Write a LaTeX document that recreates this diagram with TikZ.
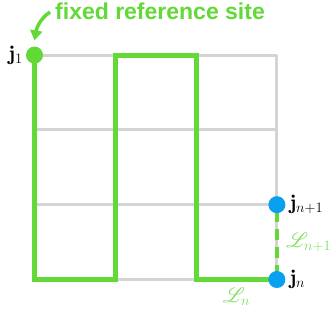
\documentclass[tikz,border=0pt]{standalone}
\usepackage{fontspec}
\usepackage{amsmath, amssymb}
\usepackage{mathrsfs}
\usepackage{tikz}
\usetikzlibrary{arrows.meta,positioning}
\newfontfamily\capfont{Liberation Sans}
\definecolor{lgreen}{RGB}{98,217,54}
\definecolor{lscript}{RGB}{125,222,90}
\definecolor{lblue}{RGB}{10,160,240}
\definecolor{lgray}{RGB}{212,212,212}
\tikzset{G/.style={circle, fill=lgreen, minimum size=17pt, inner sep=0pt}}
\tikzset{B/.style={circle, fill=lblue, minimum size=17pt, inner sep=0pt}}
\tikzset{E/.style={draw=lgray, line width=3pt}}
\tikzset{W/.style={draw=lgreen, line width=5pt, line join=miter}}
\tikzset{D/.style={draw=lgreen, line width=4.5pt, dash pattern=on 11pt off 7pt, dash phase=14.5pt}}
\tikzset{A/.style={draw=lgreen, line width=3.5pt, -{Triangle[length=10pt,width=12pt]}}}
\tikzset{J/.style={inner sep=0pt, font=\fontsize{21}{24}\selectfont}}
\tikzset{L/.style={inner sep=0pt, text=lscript, font=\fontsize{21}{24}\selectfont}}

\begin{document}
\begin{tikzpicture}[x=1pt,y=1pt]
            \useasboundingbox (0,0) rectangle (333,320);
            \foreach \i in {0,...,3}
                \foreach \j in {0,...,3}
                    \coordinate (p\i\j) at ({34.5+80.8*\i},{40.5+74.8*\j});
            \foreach \k in {0,...,3}{
                \draw[E] (p0\k) -- (p3\k);
                \draw[E] (p\k0) -- (p\k3);
            }
            \draw[D] (p30) -- (p31);
            \draw[W] (p03) -- (p00) -- (p10) -- (p13) -- (p23) -- (p20) -- (p30);
            \node[G] (j1) at (p03) {};
            \node[B] (jn1) at (p31) {};
            \node[B] (jn) at (p30) {};
            \node[J, left=3pt of j1] (lj1) {$\mathbf{j}_1$};
            \node[J, right=4pt of jn1] (ljn1) {$\mathbf{j}_{n+1}$};
            \node[J, right=4pt of jn] (ljn) {$\mathbf{j}_n$};
            \path (jn) -- (jn1) node[L, midway, right=9pt] (lLn1) {$\mathscr{L}_{n+1}$};
            \path (p20) -- (p30) node[L, midway, below=8pt] (lLn) {$\mathscr{L}_n$};
            \node[text=lgreen, inner sep=0pt, anchor=west,
                font=\capfont\bfseries\fontsize{23}{26}\selectfont] (cap) at (55,309) {fixed reference site};
            \draw[A] ([xshift=-5pt,yshift=-1pt]cap.west) to[out=215,in=80] ([yshift=6pt]j1.north);
        \end{tikzpicture}
\end{document}
